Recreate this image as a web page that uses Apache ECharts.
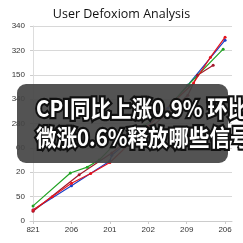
<!DOCTYPE html>
<html>
<head>
<meta charset="utf-8">
<script src="https://cdn.jsdelivr.net/npm/echarts@6/dist/echarts.min.js"></script>
<style>
html,body{margin:0;padding:0;background:#fff;}
#main{width:243px;height:243px;}
</style>
</head>
<body>
<div id="main"></div>
<script>
var xLabels = ['821', '206', '201', '202', '209', '206'];
var yLabels = ['0', '50', '20', '00', '280', '340', '150', '320', '340'];

// [x position, y position] in axis units
var redData = [[0, 0.45], [0.5, 1.0], [1, 1.55], [1.5, 1.95], [2, 2.4], [3, 3.9], [4.18, 5.66], [4.62, 6.72], [5, 7.54]];
var greenData = [[0, 0.62], [0.97, 1.97], [1.41, 2.21], [1.72, 2.5], [2.05, 3.03], [2.9, 3.93], [3.41, 4.47], [4.03, 5.57], [4.95, 7.05]];
var blueData = [[0, 0.45], [1, 1.45], [2, 2.46], [2.05, 2.7], [3.51, 4.63], [4.03, 5.57], [5, 7.42]];
var darkRedData = [[0, 0.4], [1.2, 1.9], [2.05, 2.79], [2.3, 3.11], [3.08, 3.85], [4.03, 5.16], [4.28, 5.98], [4.69, 6.39]];

var titleText = 'User Defoxiom Analysis';
var line1 = 'CPI同比上涨0.9% 环比';
var line2 = '微涨0.6%释放哪些信号';

var chart = echarts.init(document.getElementById('main'));

function mkSeries(name, color, data) {
    return {
        name: name,
        type: 'line',
        data: data,
        symbol: 'circle',
        symbolSize: 3,
        lineStyle: { color: color, width: 1.2 },
        itemStyle: { color: color },
        animation: false
    };
}

function mkText(txt, y) {
    return {
        type: 'text',
        x: 36,
        y: y,
        scaleY: 1.12,
        style: {
            text: txt,
            fill: '#fff',
            stroke: '#111',
            lineWidth: 4,
            strokeFirst: true,
            font: 'bold 20.5px "Noto Sans CJK SC"',
            textVerticalAlign: 'middle'
        },
        z: 101
    };
}

var option = {
    animation: false,
    title: {
        text: titleText,
        left: 'center',
        top: 3,
        textStyle: { fontSize: 12.5, fontWeight: 'normal', color: '#111', fontFamily: 'Open Sans' }
    },
    grid: { left: 30, right: 11, top: 26, bottom: 22 },
    xAxis: {
        type: 'value',
        min: -0.08,
        max: 5.18,
        splitLine: { show: false },
        axisLine: { lineStyle: { color: '#ccc' } },
        axisTick: { show: true, customValues: [0, 1, 2, 3, 4, 5], length: 3, lineStyle: { color: '#ccc' } },
        axisLabel: {
            customValues: [0, 1, 2, 3, 4, 5],
            fontSize: 8,
            color: '#333',
            margin: 5,
            formatter: function (v) { return xLabels[Math.round(v)]; }
        }
    },
    yAxis: {
        type: 'value',
        min: 0,
        max: 8,
        interval: 1,
        axisLine: { show: true, lineStyle: { color: '#ddd' } },
        axisTick: { show: true, length: 3, lineStyle: { color: '#ccc' } },
        splitLine: { lineStyle: { color: '#d8d8d8' } },
        axisLabel: {
            fontSize: 8,
            color: '#333',
            margin: 5,
            formatter: function (v) { return yLabels[Math.round(v)]; }
        }
    },
    series: [
        mkSeries('blue', '#1c3fc8', blueData),
        mkSeries('darkred', '#a3182c', darkRedData),
        mkSeries('green', '#22a324', greenData),
        mkSeries('red', '#e5141c', redData)
    ],
    graphic: [
        {
            type: 'rect',
            shape: { x: 17, y: 84, width: 211, height: 79, r: 9 },
            style: { fill: 'rgba(68,68,68,0.92)' },
            z: 100
        },
        mkText(line1, 108),
        mkText(line2, 137)
    ]
};

chart.setOption(option);
</script>
</body>
</html>
